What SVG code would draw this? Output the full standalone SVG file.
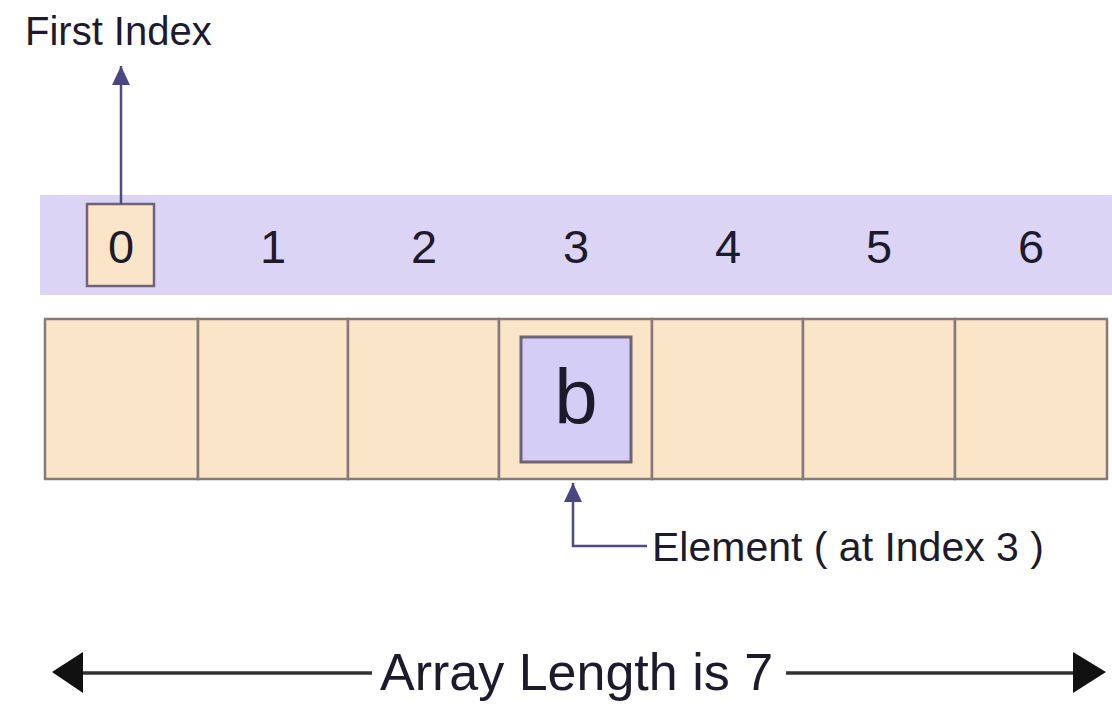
<svg xmlns="http://www.w3.org/2000/svg" width="1112" height="705" viewBox="0 0 1112 705">
<style>
text{font-family:"Liberation Sans",Arial,sans-serif;fill:#1c1a2b}
.idx{font-size:47px;text-anchor:middle}
.cell{fill:#fbe5c8;stroke:#857a78;stroke-width:2.5}
.conn{stroke:#4e4a82;stroke-width:2.5;fill:none}
</style>
<defs>
<marker id="ph" markerWidth="20" markerHeight="20" refX="19" refY="10" orient="auto" markerUnits="userSpaceOnUse"><path d="M0,1 L19,10 L0,19 Z" fill="#4a4680"/></marker>
</defs>
<rect id="band" x="40" y="195" width="1072" height="100" fill="#dcd4f5"/>
<g id="index-row">
<rect x="87" y="204" width="67" height="82" fill="#fbe5c8" stroke="#6e6478" stroke-width="2.5"/>
<text class="idx" x="121" y="263">0</text>
<text class="idx" x="273" y="263">1</text>
<text class="idx" x="424" y="263">2</text>
<text class="idx" x="576" y="263">3</text>
<text class="idx" x="728" y="263">4</text>
<text class="idx" x="879" y="263">5</text>
<text class="idx" x="1031" y="263">6</text>
</g>
<g id="array">
<rect class="cell" x="45" y="319" width="153" height="160"/>
<rect class="cell" x="198" y="319" width="150" height="160"/>
<rect class="cell" x="348" y="319" width="151" height="160"/>
<rect class="cell" x="499" y="319" width="153" height="160"/>
<rect class="cell" x="652" y="319" width="151" height="160"/>
<rect class="cell" x="803" y="319" width="152" height="160"/>
<rect class="cell" x="955" y="319" width="152" height="160"/>
</g>
<g id="element-b">
<rect x="521" y="337" width="110" height="125" fill="#d4cdf6" stroke="#6e6478" stroke-width="3"/>
<text x="576" y="424" font-size="78" text-anchor="middle">b</text>
</g>
<g id="label-first">
<text x="25" y="45" font-size="40">First Index</text>
</g>
<g id="label-element">
<text x="652" y="561" font-size="41">Element ( at Index 3 )</text>
</g>
<g id="label-length">
<text x="380" y="690" font-size="52">Array Length is 7</text>
</g>
<g id="connectors">
<path class="conn" d="M121,204 V66" marker-end="url(#ph)"/>
<path class="conn" d="M647,546 H573 V483" marker-end="url(#ph)"/>
<path d="M80,673 H372 M786,673 H1076" stroke="#333" stroke-width="3.5" fill="none"/>
<path d="M52,672 L83,652 L83,693 Z" fill="#111"/>
<path d="M1106,672 L1073,652 L1073,693 Z" fill="#111"/>
</g>
</svg>
